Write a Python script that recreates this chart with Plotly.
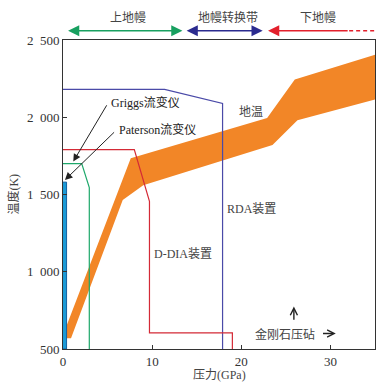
import plotly.graph_objects as go

# ---- data (pressure GPa, temperature K) ----
rda_p = [0, 11.4, 17.9, 17.9]
rda_T = [2180, 2180, 2090, 500]
ddia_p = [0, 8.0, 9.7, 9.7, 19.0, 19.0]
ddia_T = [1790, 1790, 1455, 605, 605, 500]
griggs_p = [0, 2.1, 2.95, 2.95]
griggs_T = [1700, 1700, 1545, 500]
paterson_p = [0, 0.4]
paterson_T = [500, 1580]
geo_upper_p = [0.4, 7.6, 22.9, 26.0, 35]
geo_upper_T = [650, 1735, 1995, 2245, 2405]
geo_lower_p = [0.4, 0.9, 6.7, 9.0, 23.5, 26.3, 35]
geo_lower_T = [570, 570, 1465, 1560, 1820, 1980, 2115]

x_ticks = [0, 10, 20, 30]
x_ticktext = ["0", "10", "20", "30"]
y_ticks = [500, 1000, 1500, 2000, 2500]
y_ticktext = ["500", "1\u00a0\u00a0000", "1\u00a0\u00a0500", "2\u00a0\u00a0000", "2\u00a0\u00a0500"]

zones = ["上地幔", "地幔转换带", "下地幔"]
zone_start = [0.4, 13.7, 32.1]
zone_end = [13.4, 22.4, 23.0]
zone_colors = ["#18a060", "#2b2b8f", "#e3202c"]

FONT = "Liberation Serif, Noto Sans CJK SC, serif"

fig = go.Figure()

# geotherm band
band_x = geo_upper_p + geo_lower_p[::-1]
band_y = geo_upper_T + geo_lower_T[::-1]
fig.add_trace(go.Scatter(x=band_x, y=band_y, fill="toself", mode="lines",
                         line=dict(width=0), fillcolor="#F28627",
                         hoverinfo="skip", showlegend=False))

# Paterson bar
pat_x = [paterson_p[0], paterson_p[1], paterson_p[1], paterson_p[0]]
pat_y = [paterson_T[0], paterson_T[0], paterson_T[1], paterson_T[1]]
fig.add_trace(go.Scatter(x=pat_x, y=pat_y, fill="toself", mode="lines",
                         line=dict(width=1, color="#1560a0"), fillcolor="#1b9ad6",
                         showlegend=False))

fig.add_trace(go.Scatter(x=rda_p, y=rda_T, mode="lines",
                         line=dict(color="#4a4aa8", width=1.2), showlegend=False))
fig.add_trace(go.Scatter(x=ddia_p, y=ddia_T, mode="lines",
                         line=dict(color="#d42a36", width=1.2), showlegend=False))
fig.add_trace(go.Scatter(x=griggs_p, y=griggs_T, mode="lines",
                         line=dict(color="#1da86a", width=1.2), showlegend=False))

ann = []
# top zone arrows
for i, name in enumerate(zones):
    both = i < 2
    ann.append(dict(x=zone_end[i], y=1.030, xref="x", yref="paper",
                    ax=zone_start[i], ay=0, axref="x", ayref="pixel",
                    showarrow=True, arrowhead=2, arrowsize=1.4, arrowwidth=1.6,
                    startarrowhead=2, startarrowsize=1.4,
                    arrowside="end+start" if both else "end",
                    arrowcolor=zone_colors[i], text=""))
label_x = [7.3, 18.5, 28.6]
for i, name in enumerate(zones):
    ann.append(dict(x=label_x[i], y=1.074, xref="x", yref="paper", text=name,
                    xanchor="center", yanchor="middle",
                    showarrow=False, font=dict(family=FONT, size=12, color="#444")))

# pointer arrows
ann.append(dict(x=1.15, y=1713, ax=5.0, ay=2087, xref="x", yref="y", axref="x", ayref="y",
                showarrow=True, arrowhead=2, arrowsize=1.5, arrowwidth=1, arrowcolor="#222", text=""))
ann.append(dict(x=0.22, y=1594, ax=5.9, ay=1912, xref="x", yref="y", axref="x", ayref="y",
                showarrow=True, arrowhead=2, arrowsize=1.5, arrowwidth=1, arrowcolor="#222", text=""))
ann.append(dict(x=5.2, y=2095, text="Griggs流变仪", showarrow=False, xanchor="left",
                font=dict(family=FONT, size=12, color="#222")))
ann.append(dict(x=6.1, y=1920, text="Paterson流变仪", showarrow=False, xanchor="left",
                font=dict(family=FONT, size=12, color="#222")))
ann.append(dict(x=21.1, y=2037, text="地温", showarrow=False,
                font=dict(family=FONT, size=12, color="#444")))
ann.append(dict(x=21.1, y=1405, text="RDA装置", showarrow=False,
                font=dict(family=FONT, size=12, color="#444")))
ann.append(dict(x=13.5, y=1118, text="D-DIA装置", showarrow=False,
                font=dict(family=FONT, size=12, color="#444")))
ann.append(dict(x=24.95, y=597, text="金刚石压砧", showarrow=False,
                font=dict(family=FONT, size=12, color="#444")))
ann.append(dict(x=25.9, y=775, ax=25.9, ay=680, xref="x", yref="y", axref="x", ayref="y",
                showarrow=True, arrowhead=5, arrowsize=1.0, arrowwidth=1.4, arrowcolor="#222", text=""))
ann.append(dict(x=30.6, y=600, ax=29.0, ay=600, xref="x", yref="y", axref="x", ayref="y",
                showarrow=True, arrowhead=5, arrowsize=1.0, arrowwidth=1.4, arrowcolor="#222", text=""))

# axis titles
ann.append(dict(x=-0.16, y=0.5, xref="paper", yref="paper", text="温度(K)", textangle=-90,
                xanchor="center", yanchor="middle",
                showarrow=False, font=dict(family=FONT, size=12, color="#444")))
ann.append(dict(x=0.5, y=-0.084, xref="paper", yref="paper", text="压力(GPa)",
                xanchor="center", yanchor="middle",
                showarrow=False, font=dict(family=FONT, size=12, color="#444")))

fig.update_layout(
    width=389, height=388,
    margin=dict(l=63, r=14, t=40, b=39),
    plot_bgcolor="white", paper_bgcolor="white",
    annotations=ann,
    shapes=[dict(type="line", xref="x", yref="paper", x0=32.1, x1=35, y0=1.030, y1=1.030,
                 line=dict(color=zone_colors[2], width=1.3, dash="4px,3px"))],
    xaxis=dict(range=[0, 35], showgrid=False, zeroline=False, showline=True,
               linecolor="#333", linewidth=1, mirror=True, ticks="inside", ticklen=4,
               tickcolor="#333", tickvals=x_ticks, ticktext=x_ticktext,
               tickfont=dict(family=FONT, size=13, color="#333")),
    yaxis=dict(range=[500, 2500], showgrid=False, zeroline=False, showline=True,
               linecolor="#333", linewidth=1, mirror=True, ticks="inside", ticklen=4,
               tickcolor="#333", tickvals=y_ticks, ticktext=y_ticktext,
               tickfont=dict(family=FONT, size=13, color="#333")),
)

fig.write_html("out.html", config={"displayModeBar": False},
               post_script="document.body.style.margin='0';document.body.style.padding='0';")
